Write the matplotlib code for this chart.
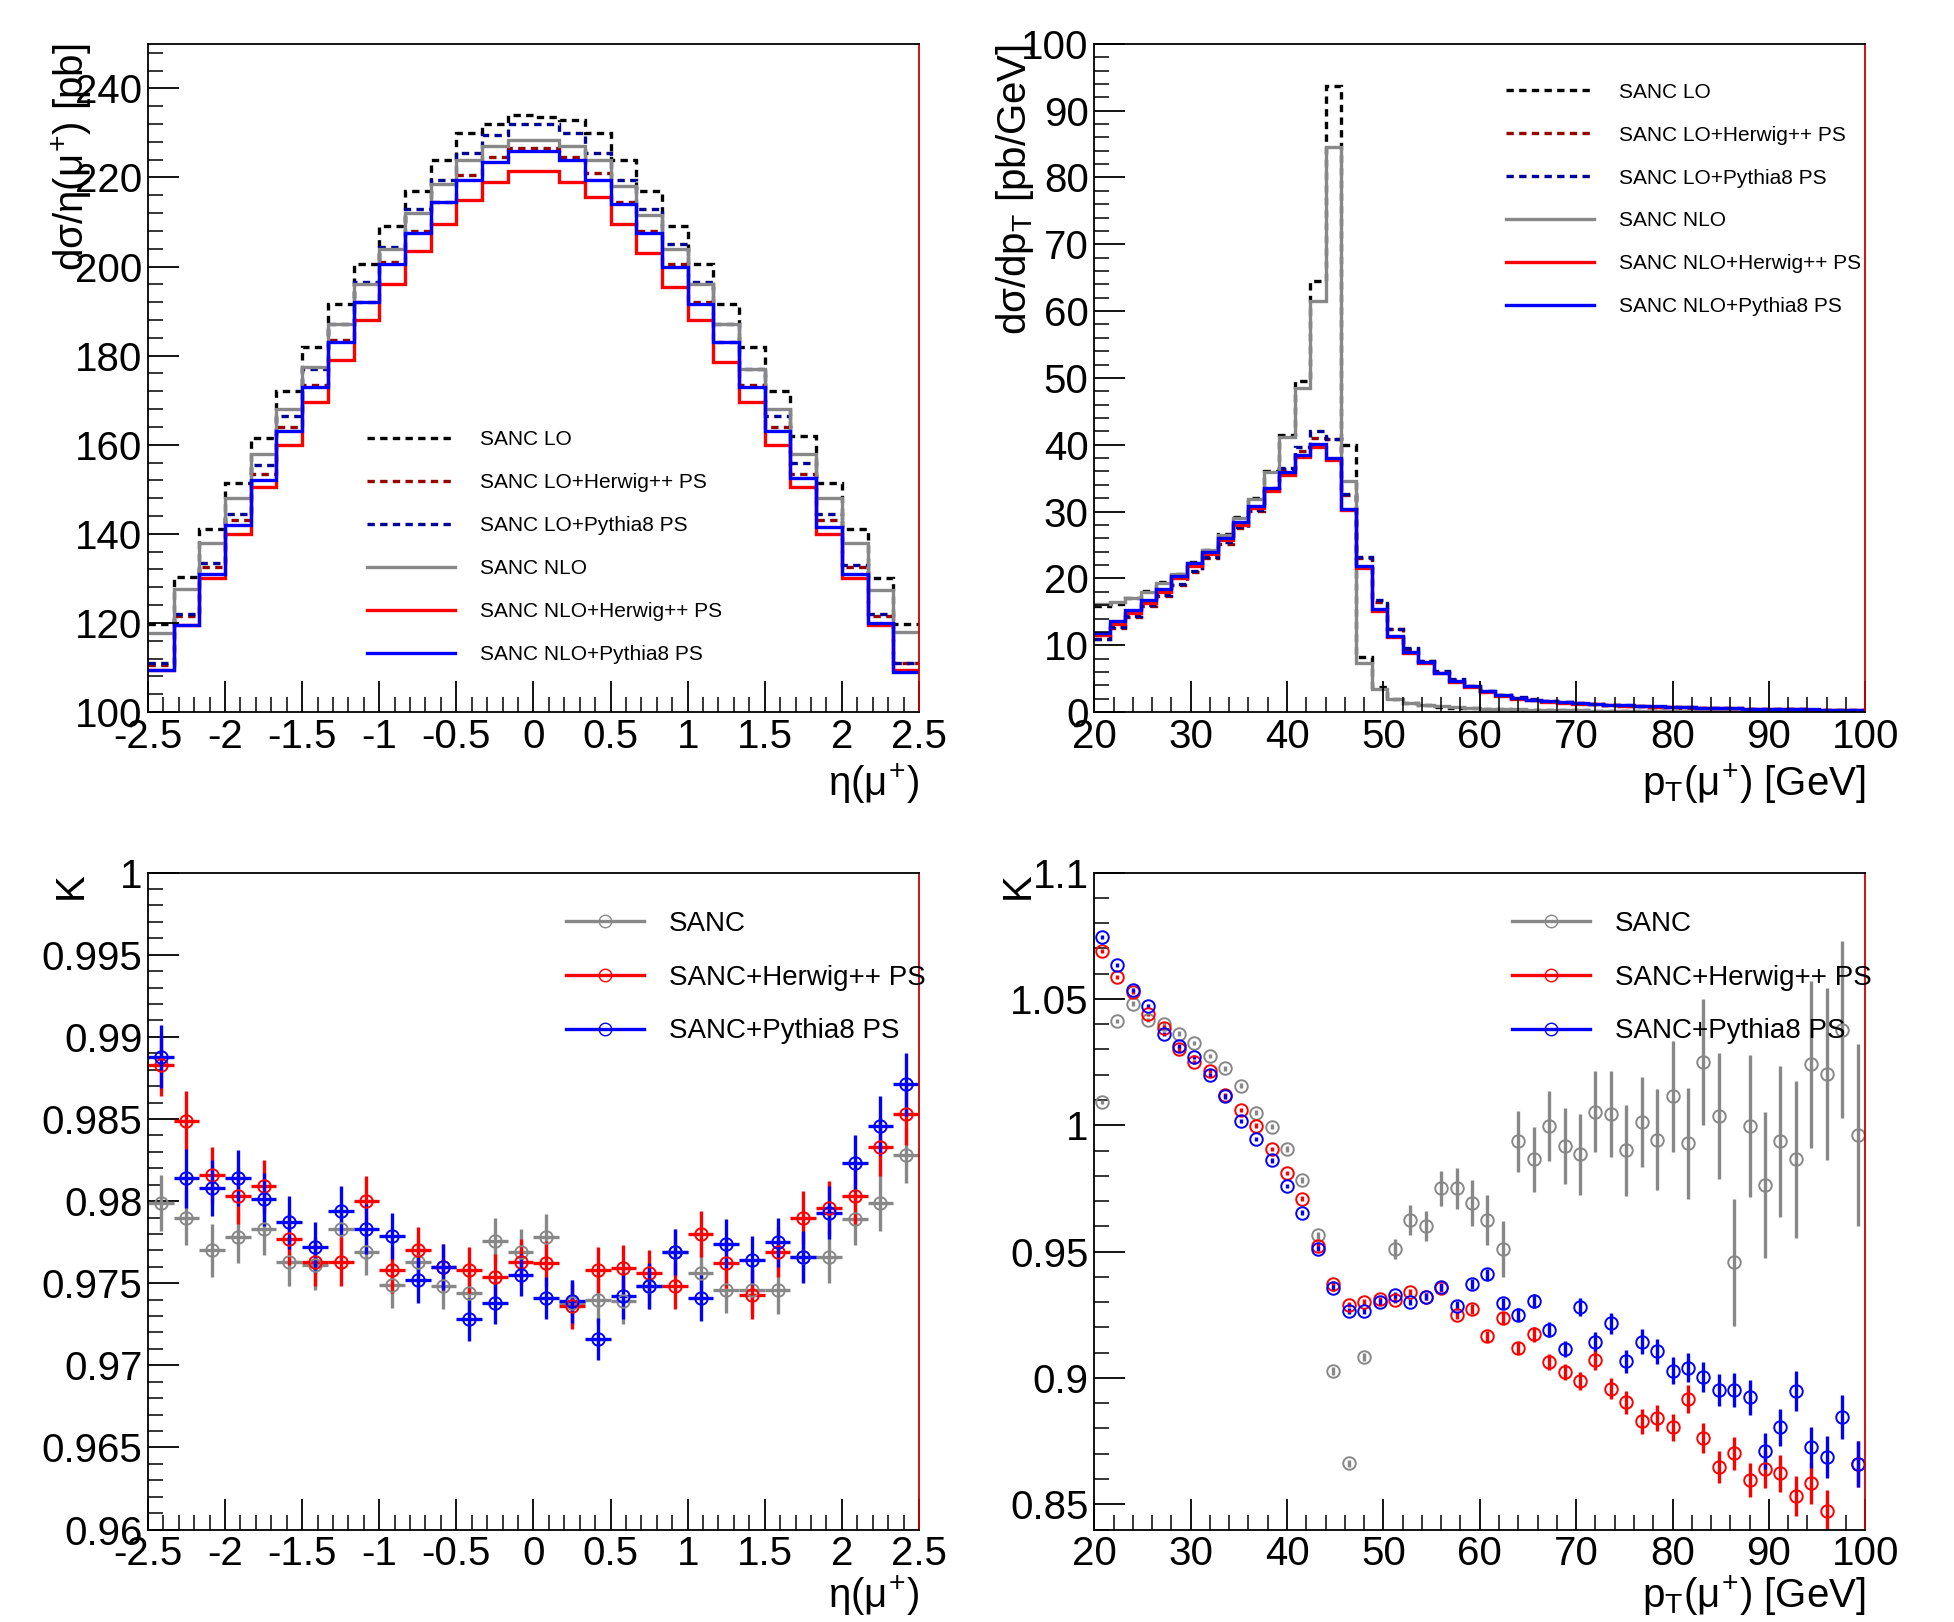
import numpy as np
import matplotlib
matplotlib.use("Agg")
import matplotlib.pyplot as plt

plt.rcParams['font.family'] = ['Liberation Sans', 'DejaVu Sans']
plt.rcParams['mathtext.fontset'] = 'custom'
plt.rcParams['mathtext.rm'] = 'Liberation Sans'
plt.rcParams['mathtext.it'] = 'Liberation Sans'

# ---- eta distributions (30 bins, -2.5..2.5)
eta_edges = np.linspace(-2.5, 2.5, 31)
eta_lo = [119.7, 130.3, 141.0, 151.5, 161.5, 172.0, 182.0, 191.5, 200.5, 209.0, 217.0, 224.0, 230.0, 232.0, 234.0,
          233.5, 233.0, 230.0, 224.0, 217.0, 209.0, 200.5, 191.5, 182.0, 172.0, 162.0, 151.5, 141.0, 130.0, 119.7]
eta_lo_hw = [110.5, 121.5, 132.5, 143.0, 153.5, 164.0, 173.5, 183.5, 192.0, 201.0, 208.0, 214.5, 220.5, 224.5, 226.5,
             226.5, 224.5, 221.0, 214.5, 208.0, 200.5, 192.0, 183.0, 173.5, 164.0, 153.5, 143.0, 132.5, 121.5, 111.0]
eta_lo_py = [111.0, 122.0, 133.5, 144.5, 155.5, 166.5, 177.0, 187.0, 196.5, 204.5, 213.0, 219.5, 225.5, 229.5, 232.0,
             232.0, 230.0, 225.5, 219.5, 213.0, 205.0, 196.5, 187.0, 177.0, 166.5, 156.0, 144.5, 133.0, 122.0, 111.0]
eta_nlo = [117.7, 127.7, 138.0, 148.0, 158.0, 168.0, 177.5, 187.0, 196.0, 204.0, 212.0, 218.5, 224.0, 227.0, 228.5,
           228.5, 227.0, 224.0, 218.0, 211.5, 204.0, 196.0, 187.0, 177.0, 168.0, 158.0, 148.0, 138.0, 127.5, 118.0]
eta_nlo_hw = [109.5, 119.5, 130.0, 140.0, 150.5, 160.0, 169.5, 179.0, 188.0, 196.0, 203.5, 209.5, 215.0, 219.0, 221.5,
              221.5, 219.0, 215.5, 209.5, 203.0, 195.5, 188.0, 178.5, 169.5, 160.0, 150.5, 140.0, 130.0, 119.5, 109.5]
eta_nlo_py = [109.5, 119.5, 131.0, 142.0, 152.0, 163.0, 173.0, 183.0, 192.0, 200.5, 207.5, 214.5, 219.5, 223.5, 226.0,
              226.0, 224.0, 219.5, 214.0, 207.5, 200.0, 191.5, 183.0, 173.0, 163.0, 152.5, 141.5, 131.0, 120.0, 109.0]

# ---- pT distributions (50 bins, 20..100)
pt_edges = np.linspace(20, 100, 51)
pt_lo = [15.9, 16.2, 17.1, 18.1, 19.4, 20.7, 22.4, 24.3, 26.6, 29.2, 32.1, 36.0, 41.4, 49.5, 64.5, 93.7, 40.0, 8.2, 3.7, 2.0,
         1.4, 1.0, 0.8, 0.65, 0.55, 0.5, 0.42, 0.38, 0.33, 0.3, 0.27, 0.24, 0.21, 0.19, 0.17, 0.15, 0.14, 0.12, 0.11, 0.1,
         0.09, 0.08, 0.08, 0.07, 0.06, 0.06, 0.05, 0.05, 0.04, 0.04]
pt_lo_hw = [11.0, 12.6, 14.2, 15.8, 17.3, 19.0, 20.9, 23.0, 25.2, 27.5, 30.1, 33.3, 36.3, 39.0, 41.0, 40.8, 32.5, 23.0, 16.5, 12.4,
            9.5, 7.6, 6.0, 4.8, 3.85, 3.15, 2.55, 2.15, 1.85, 1.65, 1.48, 1.33, 1.19, 1.08, 0.98, 0.89, 0.81, 0.74, 0.68, 0.63,
            0.58, 0.53, 0.49, 0.45, 0.42, 0.39, 0.36, 0.33, 0.3, 0.27]
pt_lo_py = [11.0, 12.7, 14.3, 16.0, 17.5, 19.2, 21.1, 23.2, 25.5, 27.7, 30.3, 33.5, 36.5, 39.6, 42.0, 40.8, 32.7, 23.2, 16.7, 12.5,
            9.6, 7.7, 6.1, 4.9, 3.9, 3.2, 2.6, 2.2, 1.9, 1.7, 1.5, 1.35, 1.2, 1.1, 1.0, 0.9, 0.82, 0.75, 0.69, 0.64,
            0.59, 0.54, 0.5, 0.46, 0.43, 0.4, 0.37, 0.34, 0.31, 0.28]
pt_nlo = [16.1, 16.5, 17.1, 18.0, 19.3, 20.6, 22.3, 24.2, 26.5, 29.0, 31.9, 35.9, 41.2, 48.5, 61.5, 84.6, 34.6, 7.4, 3.5, 1.9,
          1.4, 1.05, 0.85, 0.7, 0.6, 0.5, 0.45, 0.4, 0.35, 0.3, 0.28, 0.25, 0.22, 0.2, 0.18, 0.16, 0.15, 0.13, 0.12, 0.11,
          0.1, 0.09, 0.08, 0.08, 0.07, 0.06, 0.06, 0.05, 0.05, 0.04]
pt_nlo_hw = [11.5, 13.2, 14.8, 16.3, 18.0, 20.0, 21.9, 23.6, 25.7, 28.0, 30.5, 33.1, 35.5, 38.1, 39.7, 37.7, 30.2, 21.5, 15.1, 11.2,
             8.8, 7.3, 5.8, 4.5, 3.75, 3.05, 2.45, 2.0, 1.75, 1.56, 1.42, 1.28, 1.18, 1.08, 0.98, 0.9, 0.83, 0.77, 0.71, 0.66,
             0.61, 0.56, 0.52, 0.48, 0.44, 0.41, 0.38, 0.35, 0.32, 0.29]
pt_nlo_py = [11.8, 13.6, 15.2, 16.7, 18.4, 20.4, 22.3, 24.0, 26.1, 28.4, 30.9, 33.5, 35.9, 38.5, 40.1, 38.0, 30.4, 21.8, 15.4, 11.4,
             9.0, 7.5, 5.9, 4.6, 3.85, 3.1, 2.5, 2.05, 1.8, 1.6, 1.45, 1.3, 1.2, 1.1, 1.0, 0.92, 0.85, 0.78, 0.72, 0.67,
             0.62, 0.57, 0.53, 0.49, 0.45, 0.42, 0.39, 0.36, 0.33, 0.3]

# ---- K factor vs eta
k_eta_sanc = [0.9799, 0.9790, 0.9770, 0.9778, 0.9783, 0.9763, 0.9761, 0.9783, 0.9769, 0.9749, 0.9763, 0.9748, 0.9744, 0.9776, 0.9769,
              0.9778, 0.9738, 0.9740, 0.9739, 0.9748, 0.9769, 0.9756, 0.9746, 0.9746, 0.9746, 0.9766, 0.9766, 0.9789, 0.9799, 0.9828]
k_eta_hw = [0.9883, 0.9849, 0.9816, 0.9803, 0.9809, 0.9777, 0.9763, 0.9763, 0.9800, 0.9758, 0.9770, 0.9760, 0.9758, 0.9754, 0.9763,
            0.9762, 0.9736, 0.9758, 0.9759, 0.9756, 0.9748, 0.9780, 0.9762, 0.9743, 0.9769, 0.9790, 0.9796, 0.9803, 0.9833, 0.9853]
k_eta_py = [0.9888, 0.9814, 0.9808, 0.9814, 0.9801, 0.9787, 0.9772, 0.9794, 0.9783, 0.9779, 0.9752, 0.9760, 0.9728, 0.9738, 0.9755,
            0.9741, 0.9739, 0.9716, 0.9742, 0.9748, 0.9769, 0.9741, 0.9774, 0.9764, 0.9775, 0.9766, 0.9793, 0.9823, 0.9846, 0.9871]
k_eta_err_sanc = [0.0017, 0.0017, 0.0016, 0.0016, 0.0016, 0.0015, 0.0015, 0.0015, 0.0014, 0.0014, 0.0014, 0.0014, 0.0014, 0.0014, 0.0014,
                  0.0014, 0.0014, 0.0014, 0.0014, 0.0014, 0.0014, 0.0014, 0.0014, 0.0014, 0.0015, 0.0015, 0.0016, 0.0016, 0.0017, 0.0017]
k_eta_err_hw = [0.0019, 0.0018, 0.0017, 0.0017, 0.0016, 0.0016, 0.0015, 0.0015, 0.0015, 0.0014, 0.0014, 0.0014, 0.0014, 0.0014, 0.0014,
                0.0014, 0.0014, 0.0014, 0.0014, 0.0014, 0.0014, 0.0014, 0.0015, 0.0015, 0.0015, 0.0016, 0.0016, 0.0017, 0.0018, 0.0019]
k_eta_err_py = [0.0019, 0.0018, 0.0017, 0.0017, 0.0016, 0.0016, 0.0015, 0.0015, 0.0015, 0.0014, 0.0014, 0.0014, 0.0013, 0.0013, 0.0013,
                0.0013, 0.0013, 0.0013, 0.0014, 0.0014, 0.0014, 0.0014, 0.0015, 0.0015, 0.0015, 0.0016, 0.0016, 0.0017, 0.0018, 0.0019]

# ---- K factor vs pT
k_pt_sanc = [1.0094, 1.0411, 1.0482, 1.0417, 1.0401, 1.0363, 1.0326, 1.0274, 1.0225, 1.0157, 1.0049, 0.9995, 0.9906, 0.9782, 0.9564,
             0.9028, 0.8662, 0.9083, np.nan, 0.9511, 0.9625, 0.9602, 0.9750, 0.9750, 0.9693, 0.9625, 0.9511, 0.9936, 0.9865, 0.9997,
             0.9918, 0.9886, 1.0053, 1.0043, 0.9902, 1.0013, 0.9942, 1.0114, 0.9928, 1.0250, 1.0037, 0.9457, 0.9997, 0.9764, 0.9936,
             0.9865, 1.0242, 1.0203, 1.0379, 0.9962]
k_pt_hw = [1.0691, 1.0587, 1.0529, 1.0442, 1.0387, 1.0300, 1.0250, 1.0215, 1.0118, 1.0060, 0.9999, 0.9906, 0.9811, 0.9710, 0.9523,
           0.9372, 0.9289, 0.9301, 0.9311, 0.9309, 0.9340, 0.9321, 0.9356, 0.9249, 0.9273, 0.9165, 0.9237, 0.9119, 0.9172, 0.9063,
           0.9024, 0.8989, 0.9070, 0.8958, 0.8903, 0.8828, 0.8841, 0.8805, 0.8917, 0.8762, 0.8648, 0.8701, 0.8596, 0.8638, 0.8622,
           0.8533, 0.8583, 0.8474, np.nan, 0.8660]
k_pt_py = [1.0747, 1.0636, 1.0535, 1.0472, 1.0361, 1.0312, 1.0270, 1.0199, 1.0114, 1.0017, 0.9946, 0.9861, 0.9760, 0.9653, 0.9511,
           0.9356, 0.9265, 0.9265, 0.9301, 0.9330, 0.9301, 0.9321, 0.9360, 0.9286, 0.9371, 0.9410, 0.9295, 0.9250, 0.9305, 0.9191,
           0.9115, 0.9282, 0.9144, 0.9216, 0.9066, 0.9144, 0.9105, 0.9029, 0.9040, 0.9004, 0.8952, 0.8952, 0.8923, 0.8710, 0.8804,
           0.8948, 0.8725, 0.8687, 0.8847, 0.8660]
k_pt_err_sanc = [0.0008, 0.0008, 0.0008, 0.0008, 0.0008, 0.0009, 0.0009, 0.0009, 0.0010, 0.0010, 0.0010, 0.0011, 0.0011, 0.0012, 0.0013,
                 0.0015, 0.0015, 0.0016, 0.0020, 0.0040, 0.0060, 0.0060, 0.0070, 0.0080, 0.0090, 0.0100, 0.0110, 0.0120, 0.0130, 0.0140,
                 0.0150, 0.0160, 0.0160, 0.0170, 0.0180, 0.0180, 0.0200, 0.0220, 0.0220, 0.0250, 0.0250, 0.0250, 0.0280, 0.0290, 0.0300,
                 0.0310, 0.0330, 0.0340, 0.0350, 0.0360]
k_pt_err_ps = [0.0008, 0.0008, 0.0008, 0.0008, 0.0008, 0.0008, 0.0008, 0.0008, 0.0008, 0.0008, 0.0009, 0.0009, 0.0009, 0.0010, 0.0010,
               0.0010, 0.0010, 0.0011, 0.0011, 0.0012, 0.0013, 0.0014, 0.0015, 0.0017, 0.0019, 0.0021, 0.0023, 0.0025, 0.0028, 0.0030,
               0.0033, 0.0036, 0.0039, 0.0042, 0.0045, 0.0048, 0.0051, 0.0054, 0.0057, 0.0060, 0.0063, 0.0066, 0.0069, 0.0072, 0.0075,
               0.0078, 0.0081, 0.0084, 0.0087, 0.0090]

DOT = (0, (2.2, 1.6))
TICK_FS = 29
LEG_FS_TOP = 15
LEG_FS_BOT = 20

fig = plt.figure(figsize=(19.54, 16.22), dpi=100)
axes = {
    'tl': fig.add_axes([0.0757, 0.561, 0.3946, 0.412]),
    'tr': fig.add_axes([0.560, 0.561, 0.3946, 0.412]),
    'bl': fig.add_axes([0.0757, 0.057, 0.3946, 0.405]),
    'br': fig.add_axes([0.560, 0.057, 0.3946, 0.405]),
}


def style(ax, ylab, xlab, ylx, xly=-0.075):
    ax.tick_params(which='both', direction='in', top=False, right=False, labelsize=TICK_FS, pad=4)
    ax.tick_params(which='major', length=22, width=1.3)
    ax.tick_params(which='minor', length=11, width=1.1)
    for s in ax.spines.values():
        s.set_linewidth(1.3)
    ax.spines['right'].set_color('#cc0000')
    ax.set_ylabel(ylab, fontsize=TICK_FS, loc='top')
    ax.yaxis.set_label_coords(ylx, 1.0)
    ax.set_xlabel(xlab, fontsize=TICK_FS, loc='right')
    ax.xaxis.set_label_coords(1.0, xly)


def stairs_all(ax, edges, series):
    for vals, col, ls, lab in series:
        ax.stairs(vals, edges, color=col, linestyle=ls, linewidth=2.4, label=lab, baseline=None)


hist_styles = [('black', DOT, 'SANC LO'), ('#990000', DOT, 'SANC LO+Herwig++ PS'), ('#000099', DOT, 'SANC LO+Pythia8 PS'),
               ('#888888', '-', 'SANC NLO'), ('#ff0000', '-', 'SANC NLO+Herwig++ PS'), ('#0000ff', '-', 'SANC NLO+Pythia8 PS')]
eta_ticklabels = ['-2.5', '-2', '-1.5', '-1', '-0.5', '0', '0.5', '1', '1.5', '2', '2.5']

# top left
ax = axes['tl']
eta_series = [eta_lo, eta_lo_hw, eta_lo_py, eta_nlo, eta_nlo_hw, eta_nlo_py]
stairs_all(ax, eta_edges, [(v, c, l, n) for v, (c, l, n) in zip(eta_series, hist_styles)])
ax.set_xlim(-2.5, 2.5)
ax.set_ylim(100, 250)
ax.set_xticks(np.arange(-2.5, 2.51, 0.5))
ax.set_xticklabels(eta_ticklabels)
ax.set_xticks(np.arange(-2.5, 2.51, 0.1), minor=True)
ax.set_yticks(np.arange(100, 241, 20))
ax.set_yticks(np.arange(100, 250, 4), minor=True)
style(ax, r'd$\sigma$/$\eta$($\mu^{+}$) [pb]', r'$\eta$($\mu^{+}$)', -0.07)
ax.legend(loc='upper left', bbox_to_anchor=(0.26, 0.45), frameon=False, fontsize=LEG_FS_TOP,
          handlelength=4.2, labelspacing=1.15, handletextpad=1.2)

# top right
ax = axes['tr']
pt_series = [pt_lo, pt_lo_hw, pt_lo_py, pt_nlo, pt_nlo_hw, pt_nlo_py]
stairs_all(ax, pt_edges, [(v, c, l, n) for v, (c, l, n) in zip(pt_series, hist_styles)])
ax.set_xlim(20, 100)
ax.set_ylim(0, 100)
ax.set_xticks(np.arange(20, 101, 10))
ax.set_xticks(np.arange(20, 101, 2), minor=True)
ax.set_yticks(np.arange(0, 101, 10))
ax.set_yticks(np.arange(0, 100, 2), minor=True)
style(ax, r'd$\sigma$/dp$_{\rm T}$ [pb/GeV]', r'p$_{\rm T}$($\mu^{+}$) [GeV]', -0.075)
ax.legend(loc='upper left', bbox_to_anchor=(0.51, 0.97), frameon=False, fontsize=LEG_FS_TOP,
          handlelength=4.2, labelspacing=1.15, handletextpad=1.2)

k_styles = [('#888888', 'SANC'), ('#ff0000', 'SANC+Herwig++ PS'), ('#0000ff', 'SANC+Pythia8 PS')]


def kplot(ax, x, xerr, series):
    for (y, e), (col, lab) in zip(series, k_styles):
        ax.errorbar(x, y, yerr=e, xerr=xerr, fmt='o', mfc='none', mec=col, ecolor=col, ms=9, mew=1.4,
                    elinewidth=2.4, capsize=0, label=lab)
    h = [plt.Line2D([], [], color=c, marker='o', mfc='none', ms=9, lw=2.4) for c, _ in k_styles]
    ax.legend(h, [l for _, l in k_styles], loc='upper left', bbox_to_anchor=(0.51, 0.98), frameon=False,
              fontsize=LEG_FS_BOT, handlelength=2.8, labelspacing=1.0, handletextpad=0.9)


# bottom left
ax = axes['bl']
eta_c = 0.5 * (eta_edges[:-1] + eta_edges[1:])
kplot(ax, eta_c, 0.5 * np.diff(eta_edges),
      [(k_eta_sanc, k_eta_err_sanc), (k_eta_hw, k_eta_err_hw), (k_eta_py, k_eta_err_py)])
ax.set_xlim(-2.5, 2.5)
ax.set_ylim(0.96, 1.0)
ax.set_xticks(np.arange(-2.5, 2.51, 0.5))
ax.set_xticklabels(eta_ticklabels)
ax.set_xticks(np.arange(-2.5, 2.51, 0.1), minor=True)
ax.set_yticks(np.arange(0.96, 1.0001, 0.005))
ax.set_yticklabels(['0.96', '0.965', '0.97', '0.975', '0.98', '0.985', '0.99', '0.995', '1'])
ax.set_yticks(np.arange(0.96, 1.0, 0.001), minor=True)
style(ax, 'K', r'$\eta$($\mu^{+}$)', -0.075, -0.068)

# bottom right
ax = axes['br']
pt_c = 0.5 * (pt_edges[:-1] + pt_edges[1:])
kplot(ax, pt_c, None,
      [(k_pt_sanc, k_pt_err_sanc), (k_pt_hw, k_pt_err_ps), (k_pt_py, k_pt_err_ps)])
ax.set_xlim(20, 100)
ax.set_ylim(0.84, 1.1)
ax.set_xticks(np.arange(20, 101, 10))
ax.set_xticks(np.arange(20, 101, 2), minor=True)
ax.set_yticks([0.85, 0.9, 0.95, 1.0, 1.05, 1.1])
ax.set_yticklabels(['0.85', '0.9', '0.95', '1', '1.05', '1.1'])
ax.set_yticks(np.arange(0.84, 1.1, 0.01), minor=True)
style(ax, 'K', r'p$_{\rm T}$($\mu^{+}$) [GeV]', -0.075, -0.068)

fig.savefig('out.png', dpi=100)
